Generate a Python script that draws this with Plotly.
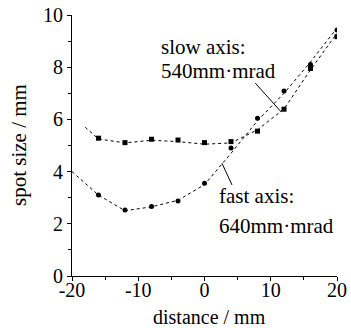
import plotly.graph_objects as go

# measured spot sizes
dist = [-16, -12, -8, -4, 0, 4, 8, 12, 16, 20]
slow_size = [5.28, 5.11, 5.24, 5.21, 5.11, 5.15, 5.55, 6.39, 7.95, 9.17]
fast_x = [-16, -12, -8, -4, 0, 4, 8, 12, 16, 20]
fast_size = [3.10, 2.53, 2.66, 2.87, 3.55, 4.9, 6.04, 7.09, 8.1, 9.43]

# fitted caustic curves
slow_fit_x = [-18, -16, -12, -8, -4, 0, 4, 8, 12, 16, 20]
slow_fit_y = [5.7, 5.25, 5.1, 5.2, 5.15, 5.05, 5.1, 5.6, 6.4, 7.9, 9.3]
fast_fit_x = [-20, -16, -12, -8, -4, 0, 4, 8, 12, 16, 20]
fast_fit_y = [4.0, 3.1, 2.5, 2.65, 2.9, 3.5, 4.7, 5.95, 7.0, 8.2, 9.5]

x_ticks = [-20, -10, 0, 10, 20]
y_ticks = [0, 2, 4, 6, 8, 10]

FONT = "Liberation Serif, Times New Roman, serif"

fig = go.Figure()
fig.add_trace(go.Scatter(x=slow_fit_x, y=slow_fit_y, mode="lines",
                         line=dict(color="black", width=1, dash="dot"), showlegend=False))
fig.add_trace(go.Scatter(x=fast_fit_x, y=fast_fit_y, mode="lines",
                         line=dict(color="black", width=1, dash="dot"), showlegend=False))
fig.add_trace(go.Scatter(x=dist, y=slow_size, mode="markers",
                         marker=dict(color="black", size=5, symbol="square"), showlegend=False))
fig.add_trace(go.Scatter(x=fast_x, y=fast_size, mode="markers",
                         marker=dict(color="black", size=5, symbol="circle"), showlegend=False))

labels = [("slow axis:", -6.9, 8.77), ("540mm·mrad", -6.9, 7.85),
          ("fast axis:", 1.9, 3.07), ("640mm·mrad", 1.9, 1.92)]
for txt, lx, ly in labels:
    fig.add_annotation(x=lx, y=ly, xref="x", yref="y", text=txt,
                       showarrow=False, xanchor="left", yanchor="middle", align="left",
                       font=dict(family=FONT, size=21, color="black"))
fig.add_annotation(x=0.52, y=-0.158, xref="paper", yref="paper", text="distance / mm",
                   showarrow=False, xanchor="center", yanchor="middle",
                   font=dict(family=FONT, size=20, color="black"))
fig.add_annotation(x=-0.2, y=0.502, xref="paper", yref="paper", text="spot size / mm",
                   showarrow=False, xanchor="center", yanchor="middle", textangle=-90,
                   font=dict(family=FONT, size=21, color="black"))
fig.add_shape(type="line", x0=7.67, y0=7.39, x1=11.6, y1=6.28, xref="x", yref="y",
              line=dict(color="black", width=1))
fig.add_shape(type="line", x0=4.15, y0=3.49, x1=2.64, y1=4.32, xref="x", yref="y",
              line=dict(color="black", width=1))

axis_common = dict(showgrid=False, zeroline=False, showline=True, linecolor="black",
                   linewidth=1, ticks="outside", ticklen=4, tickcolor="black", automargin=False,
                   tickfont=dict(family=FONT, size=20, color="black"))
fig.update_xaxes(range=[-20, 20], tickvals=x_ticks, ticktext=[str(v) for v in x_ticks],
                 minor=dict(ticks="outside", ticklen=3, dtick=5, tick0=0, tickcolor="black"),
                 ticklabelstandoff=-8,
                 **axis_common)
fig.update_yaxes(range=[0, 10], tickvals=y_ticks, ticktext=[str(v) for v in y_ticks],
                 minor=dict(ticks="outside", ticklen=3, dtick=1, tick0=0, tickcolor="black"),
                 **axis_common)
fig.update_layout(width=351, height=328, margin=dict(l=72, r=14, t=15, b=52),
                  plot_bgcolor="white", paper_bgcolor="white")
fig.write_html("out.html", config={"displayModeBar": False},
               post_script="document.body.style.margin='0';document.body.style.overflow='hidden';"
                           "document.documentElement.style.overflow='hidden';")
